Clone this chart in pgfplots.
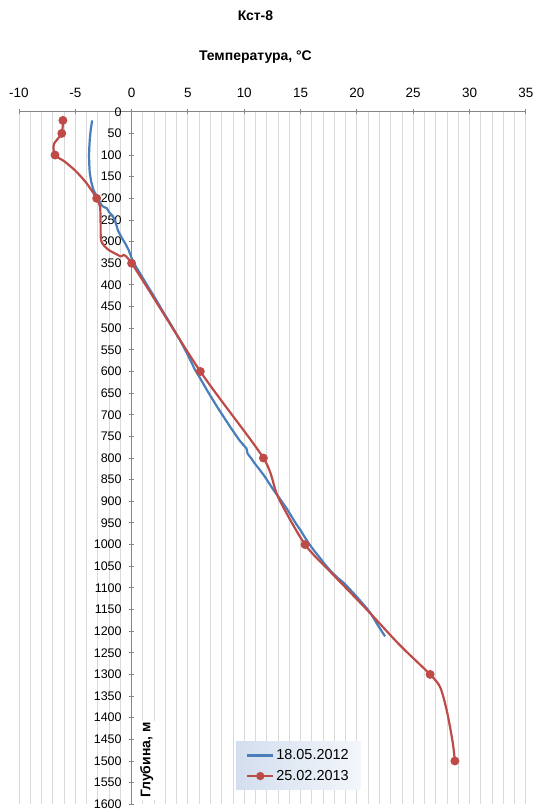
\documentclass[border=0pt]{standalone}
\usepackage{fontspec}
\setmainfont{Liberation Sans}
\usepackage{pgfplots}
\pgfplotsset{compat=1.18}

\definecolor{series1}{HTML}{4A7EBB}
\definecolor{series2}{HTML}{BE4B48}
\definecolor{gridc}{HTML}{D9D9D9}
\definecolor{axisc}{HTML}{868686}
\definecolor{legL}{HTML}{D3DEEE}
\definecolor{legR}{HTML}{F3F6FB}

\begin{document}
\begin{tikzpicture}
\begin{axis}[
  scale only axis, width=508pt, height=694pt,
  xmin=-10, xmax=35, ymin=0, ymax=1600, y dir=reverse,
  axis x line=top, axis y line=middle,
  axis line style={-, axisc, line width=0.9pt},
  xtick={-10,-5,...,35}, minor x tick num=4,
  xmajorgrids, xminorgrids,
  major grid style={gridc, line width=0.9pt},
  minor grid style={gridc, line width=0.9pt},
  ytick={50,100,...,1600},
  extra y ticks={0}, extra y tick labels={0},
  tick align=center, major tick length=5pt, minor tick length=0pt,
  tick style={axisc, line width=0.9pt},
  /pgf/number format/assume math mode=true,
  /pgf/number format/1000 sep={},
  xticklabel style={font=\fontsize{13.5}{15}\selectfont, yshift=8pt},
  yticklabel style={font=\fontsize{12.5}{14}\selectfont, xshift=-4pt},
  legend style={at={(axis cs:9.27,1455)}, anchor=north west,
    draw=none, left color=legL, right color=legR,
    font=\fontsize{14.5}{16}\selectfont, inner xsep=10pt, inner ysep=6pt,
    row sep=5pt},
  legend cell align=left,
  legend image code/.code={%
    \draw[mark repeat=2, mark phase=2, #1]
      plot coordinates {(0pt,0pt) (13pt,0pt) (26pt,0pt)};},
]
\coordinate (tl) at (rel axis cs:0,1);
\coordinate (br) at (rel axis cs:1,0);

% measured profile, 18.05.2012
\addplot[series1, line width=2.2pt, forget plot] coordinates {
(-3.5,20) (-3.62,40) (-3.7,60) (-3.75,80) (-3.78,100) (-3.76,120)
(-3.72,140) (-3.6,160) (-3.4,180) (-3.1,195) (-2.8,210) (-2.6,218)
(-2.2,223) (-2.0,232) (-1.7,240) (-1.5,250) (-1.35,262) (-1.2,275)
(-0.9,290) (-0.55,305) (-0.25,320) (-0.05,335) (0.2,350) (0.55,365)
(0.9,380) (1.25,395) (1.6,410) (1.95,425) (2.3,440) (2.7,458)
(3.1,475) (3.5,492) (3.9,510) (4.3,528) (4.65,545) (4.95,560)
(5.3,578) (5.6,595) (6.0,612) (6.4,630) (6.8,648) (7.2,665)
(7.6,682) (8.0,698) (8.4,714) (8.8,730) (9.2,745) (9.6,760)
(10.0,772) (10.2,778) (10.3,790) (10.6,800) (11.0,815) (11.4,828)
(11.8,842) (12.2,858) (12.6,874) (13.0,888) (13.4,903) (13.8,918)
(14.2,935) (14.6,952) (15.0,967) (15.35,982) (15.75,998) (16.2,1014)
(16.7,1030) (17.2,1047) (17.7,1062) (18.3,1077) (18.9,1090) (19.4,1104)
(19.9,1118) (20.4,1133) (20.9,1148) (21.3,1162) (21.6,1175) (21.9,1188)
(22.2,1200) (22.5,1212)
};

% profile 25.02.2013, markers at the logged depths
\addplot[series2, line width=2.2pt, smooth, tension=0.45, forget plot,
  mark=*, mark size=3.3pt, mark options={solid, fill=series2},
  mark indices={1,2,4,8,14,15,16,18,22,26}] coordinates {
(-6.1,20) (-6.2,50) (-6.9,75) (-6.8,100) (-6.0,114) (-5.0,136)
(-4.0,165) (-3.1,200) (-2.8,220) (-2.75,260) (-2.7,298) (-2.1,318)
(-1.0,334) (0,350) (6.1,600) (11.7,800) (13.0,890) (15.4,1000)
(17.8,1067) (20.8,1148) (23.8,1232) (26.5,1300) (27.4,1330) (28.0,1386)
(28.5,1456) (28.7,1500)
};

\addlegendimage{series1, line width=2.2pt}
\addlegendentry{18.05.2012}
\addlegendimage{series2, line width=2.2pt, mark=*, mark size=3pt}
\addlegendentry{25.02.2013}

\node[rotate=90, fill=white, inner sep=2pt,
  font=\bfseries\fontsize{14}{16}\selectfont] at (axis cs:1.35,1498) {Глубина, м};
\end{axis}

\node[font=\bfseries\fontsize{14}{16}\selectfont] at ([shift={(237pt,96pt)}]tl) {Кст-8};
\node[font=\bfseries\fontsize{14}{16}\selectfont] at ([shift={(237pt,55pt)}]tl) {Температура, °C};
\path ([shift={(-19pt,112pt)}]tl) rectangle ([shift={(9pt,-6pt)}]br);
\end{tikzpicture}
\end{document}
